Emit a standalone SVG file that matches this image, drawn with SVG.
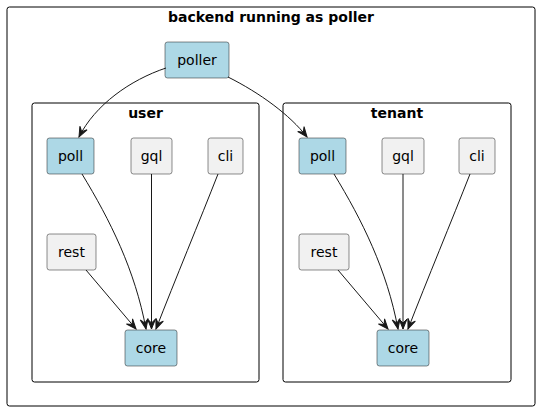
<svg xmlns="http://www.w3.org/2000/svg" width="540" height="411" viewBox="0 0 540 411">
<style>
.frame{fill:none;stroke:#000;stroke-width:1}
.ftitle{font-family:"DejaVu Sans",sans-serif;font-size:14px;font-weight:bold;text-anchor:middle;fill:#000}
.blue{fill:#ADD8E6;stroke:#181818;stroke-width:0.5}
.gray{fill:#F1F1F1;stroke:#181818;stroke-width:0.5}
.lbl{font-family:"DejaVu Sans",sans-serif;font-size:14px;text-anchor:middle;fill:#000}
.edge{fill:none;stroke:#181818;stroke-width:1;marker-end:url(#arr)}
</style>
<defs>
<marker id="arr" markerUnits="userSpaceOnUse" markerWidth="12" markerHeight="12" viewBox="-11 -6 12 12" refX="0" refY="0" orient="auto">
<path d="M0,0 L-10,-4 L-6,0 L-10,4 Z" fill="#181818" stroke="#181818" stroke-width="1"/>
</marker>
</defs>
<rect fill="#FFFFFF" x="0" y="0" width="540" height="411"/>
<g id="backend">
<rect class="frame" x="7" y="7" width="528" height="399" rx="2.5"/>
<text class="ftitle" x="271" y="22">backend running as poller</text>
</g>
<g id="user">
<rect class="frame" x="32" y="103" width="227" height="279" rx="2.5"/>
<text class="ftitle" x="145.5" y="118">user</text>
</g>
<g id="tenant">
<rect class="frame" x="283" y="103" width="228" height="279" rx="2.5"/>
<text class="ftitle" x="397" y="118">tenant</text>
</g>
<g id="poller">
<rect class="blue" x="165" y="42" width="64" height="36" rx="2.5"/>
<text class="lbl" x="197" y="65">poller</text>
</g>
<g id="user_poll">
<rect class="blue" x="47" y="138" width="47" height="36" rx="2.5"/>
<text class="lbl" x="70.5" y="161">poll</text>
</g>
<g id="user_gql">
<rect class="gray" x="131" y="138" width="41" height="36" rx="2.5"/>
<text class="lbl" x="151.5" y="161">gql</text>
</g>
<g id="user_cli">
<rect class="gray" x="208" y="138" width="35" height="36" rx="2.5"/>
<text class="lbl" x="225.5" y="161">cli</text>
</g>
<g id="user_rest">
<rect class="gray" x="47" y="234" width="49" height="36" rx="2.5"/>
<text class="lbl" x="71.5" y="257">rest</text>
</g>
<g id="user_core">
<rect class="blue" x="125" y="330" width="52" height="36" rx="2.5"/>
<text class="lbl" x="151" y="353">core</text>
</g>
<g id="tenant_poll">
<rect class="blue" x="299" y="138" width="47" height="36" rx="2.5"/>
<text class="lbl" x="322.5" y="161">poll</text>
</g>
<g id="tenant_gql">
<rect class="gray" x="382" y="138" width="42" height="36" rx="2.5"/>
<text class="lbl" x="403" y="161">gql</text>
</g>
<g id="tenant_cli">
<rect class="gray" x="459" y="138" width="36" height="36" rx="2.5"/>
<text class="lbl" x="477" y="161">cli</text>
</g>
<g id="tenant_rest">
<rect class="gray" x="299" y="234" width="50" height="36" rx="2.5"/>
<text class="lbl" x="324" y="257">rest</text>
</g>
<g id="tenant_core">
<rect class="blue" x="377" y="330" width="52" height="36" rx="2.5"/>
<text class="lbl" x="403" y="353">core</text>
</g>
<g id="connectors">
<path class="edge" d="M166,68 C130,80 95,105 79,137"/>
<path class="edge" d="M228,77 C260,93 290,115 307,137"/>
<path class="edge" d="M82,174 C110,220 135,270 146,329"/>
<path class="edge" d="M151.5,174 L151.5,329"/>
<path class="edge" d="M218,174 C200,220 175,280 156,329"/>
<path class="edge" d="M86,270 L136,329"/>
<path class="edge" d="M334,174 C362,220 387,270 398,329"/>
<path class="edge" d="M403,174 L403,329"/>
<path class="edge" d="M470,174 C452,220 427,280 408,329"/>
<path class="edge" d="M338,270 L388,329"/>
</g>
</svg>
